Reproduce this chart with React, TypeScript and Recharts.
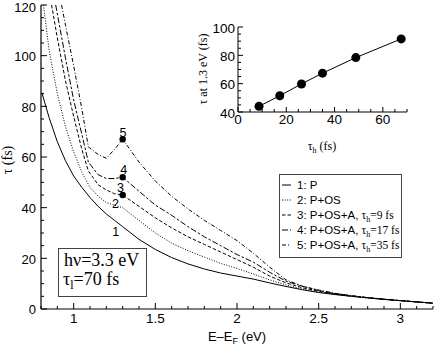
import React from 'react';
import { ComposedChart, Line, Scatter, XAxis, YAxis, Legend } from 'recharts';

// ---------- main panel data ----------
const e1 = [0.8, 0.85, 0.9, 0.95, 1.0, 1.05, 1.1, 1.15, 1.2, 1.25, 1.3, 1.4, 1.5, 1.6, 1.7, 1.8, 1.9, 2.0, 2.1, 2.2, 2.3, 2.4, 2.5, 2.6, 2.7, 2.8, 2.9, 3.0, 3.1, 3.2];
const t1 = [86.5, 75.5, 66, 58.5, 52.5, 48, 44, 40.5, 37.5, 35, 32.5, 27.5, 23.5, 20.3, 17.8, 15.8, 14.2, 13.0, 11.8, 10.3, 8.9, 7.6, 6.5, 5.7, 5.0, 4.4, 3.8, 3.3, 2.8, 2.3];

const e2 = [0.815, 0.85, 0.9, 0.95, 1.0, 1.05, 1.1, 1.15, 1.2, 1.25, 1.3, 1.35, 1.4, 1.5, 1.6, 1.7, 1.8, 1.9, 2.0, 2.1, 2.2, 2.3, 2.4, 2.5, 2.6, 2.7, 2.8, 2.9, 3.0, 3.1, 3.2];
const t2 = [120, 102, 85, 72, 62, 54, 48, 44.5, 42, 41, 40, 37.5, 35, 30, 26, 23, 20.5, 18, 16, 13.8, 11.5, 9.5, 7.9, 6.7, 5.8, 5.0, 4.4, 3.8, 3.3, 2.8, 2.3];

const e3 = [0.865, 0.9, 0.95, 1.0, 1.05, 1.09, 1.15, 1.2, 1.25, 1.3, 1.4, 1.5, 1.6, 1.7, 1.8, 1.9, 2.0, 2.1, 2.2, 2.3, 2.4, 2.5, 2.6, 2.7, 2.8, 2.9, 3.0, 3.1, 3.2];
const t3 = [120, 107, 90, 76, 63, 54.5, 49, 47, 45.5, 45, 40.5, 36, 32, 28.5, 25.5, 22.5, 19.5, 16.5, 13, 10.3, 8.4, 7, 5.9, 5.1, 4.4, 3.8, 3.3, 2.8, 2.3];

const e4 = [0.89, 0.95, 1.0, 1.05, 1.09, 1.15, 1.2, 1.25, 1.3, 1.4, 1.5, 1.6, 1.7, 1.8, 1.9, 2.0, 2.1, 2.2, 2.3, 2.4, 2.5, 2.6, 2.7, 2.8, 2.9, 3.0, 3.1, 3.2];
const t4 = [120, 99, 82.5, 69, 58, 53, 51.5, 51.5, 52, 46.5, 41, 37, 32.5, 28.5, 25, 21.5, 18.5, 14.5, 11, 9, 7.3, 6.1, 5.2, 4.5, 3.9, 3.3, 2.8, 2.3];

const e5 = [0.926, 0.95, 1.0, 1.05, 1.09, 1.15, 1.2, 1.25, 1.3, 1.4, 1.5, 1.6, 1.7, 1.8, 1.9, 2.0, 2.1, 2.2, 2.3, 2.4, 2.5, 2.6, 2.7, 2.8, 2.9, 3.0, 3.1, 3.2];
const t5 = [120, 112, 96, 79, 64, 61, 59.5, 63, 67, 58, 50.5, 44.5, 39.5, 35, 31, 27, 22, 16.5, 11.5, 9, 7.5, 6.2, 5.3, 4.5, 3.9, 3.3, 2.8, 2.3];

// markers at 1.3 eV
const markE = [1.3, 1.3, 1.3];
const markT = [45, 52, 67];

// curve number labels
const labelE = [1.258, 1.256, 1.287, 1.306, 1.302];
const labelT = [30.5, 41.5, 47.8, 54.9, 69.6];
const labelText = ['1', '2', '3', '4', '5'];

// ticks
const xTicks = [0.8, 0.9, 1.0, 1.1, 1.2, 1.3, 1.4, 1.5, 1.6, 1.7, 1.8, 1.9, 2.0, 2.1, 2.2, 2.3, 2.4, 2.5, 2.6, 2.7, 2.8, 2.9, 3.0, 3.1, 3.2];
const xMajor = [1, 1.5, 2, 2.5, 3];
const yTicks = [0, 5, 10, 15, 20, 25, 30, 35, 40, 45, 50, 55, 60, 65, 70, 75, 80, 85, 90, 95, 100, 105, 110, 115, 120];
const yMajor = [0, 20, 40, 60, 80, 100, 120];

// ---------- inset data ----------
const tauH = [8.7, 17.3, 26.3, 35, 48.8, 67.6];
const tauAt13 = [44, 51.5, 59.8, 67.4, 78.4, 91.6];
const inXTicks = [0, 5, 10, 15, 20, 25, 30, 35, 40, 45, 50, 55, 60, 65, 70];
const inXMajor = [0, 20, 40, 60];
const inYTicks = [40, 45, 50, 55, 60, 65, 70, 75, 80, 85, 90, 95, 100];
const inYMajor = [40, 60, 80, 100];

// legend
const legendLabels = ['1: P', '2: P+OS', '3: P+OS+A, ', '4: P+OS+A, ', '5: P+OS+A, '];
const legendTauH = ['', '', '9', '17', '35'];

const SANS = "'Liberation Sans', Arial, Helvetica, sans-serif";
const SERIF = "'Liberation Serif', 'Times New Roman', serif";

const zip = (xs: number[], ys: number[]) => xs.map((x, i) => ({ e: x, t: ys[i] }));
const series = [
  { data: zip(e1, t1), dash: undefined as string | undefined },
  { data: zip(e2, t2), dash: '1 1.6' },
  { data: zip(e3, t3), dash: '3.5 2' },
  { data: zip(e4, t4), dash: '6 2 2.5 2' },
  { data: zip(e5, t5), dash: '4 2 1 2' },
];
const marks = zip(markE, markT);
const labels = labelE.map((x, i) => ({ e: x, t: labelT[i], s: labelText[i] }));
const insetData = tauH.map((x, i) => ({ h: x, v: tauAt13[i] }));

const isIn = (arr: number[], v: number) => arr.some((a) => Math.abs(a - v) < 1e-6);
const fmt = (v: number) => String(Math.round(v * 10) / 10);

type Side = 'bottom' | 'top' | 'left' | 'right';
function makeTick(side: Side, majors: number[], showLabel: boolean, majLen: number, minLen: number, labelOff: number, fs: number) {
  return (props: any) => {
    const { x, y, payload } = props;
    const v = payload.value;
    const major = isIn(majors, v);
    const len = major ? majLen : minLen;
    let line;
    if (side === 'bottom') line = <line x1={x} x2={x} y1={y} y2={y - len} stroke="#000" strokeWidth={1} />;
    else if (side === 'top') line = <line x1={x} x2={x} y1={y} y2={y + len} stroke="#000" strokeWidth={1} />;
    else if (side === 'left') line = <line x1={x} x2={x + len} y1={y} y2={y} stroke="#000" strokeWidth={1} />;
    else line = <line x1={x} x2={x - len} y1={y} y2={y} stroke="#000" strokeWidth={1} />;
    let label = null;
    if (showLabel && major) {
      if (side === 'bottom')
        label = <text x={x} y={y + labelOff} textAnchor="middle" fontFamily={SANS} fontSize={fs} fill="#000">{fmt(v)}</text>;
      else if (side === 'left')
        label = <text x={x - labelOff} y={Math.max(y + fs * 0.41, fs * 0.93)} textAnchor="end" fontFamily={SANS} fontSize={fs} fill="#000">{fmt(v)}</text>;
    }
    return <g>{line}{label}</g>;
  };
}

const LegendBox = () => (
  <svg width={124} height={85} style={{ display: 'block' }}>
    <rect x={0.5} y={0.5} width={122} height={83} fill="#fff" stroke="#444" strokeWidth={1} />
    {legendLabels.map((lab, i) => {
      const cy = 11 + i * 15;
      return (
        <g key={i}>
          <line x1={3} x2={12} y1={cy} y2={cy} stroke="#000" strokeWidth={1} strokeDasharray={series[i].dash} />
          <text x={18} y={cy + 4} fontFamily={SANS} fontSize={11.5} fill="#000">
            {lab}
            {legendTauH[i] && (
              <>
                <tspan fontFamily={SERIF}>τ</tspan>
                <tspan fontFamily={SERIF} fontSize={8} dy={2.5}>h</tspan>
                <tspan fontFamily={SERIF} dy={-2.5}>={legendTauH[i]} fs</tspan>
              </>
            )}
          </text>
        </g>
      );
    })}
  </svg>
);

const DotShape = (p: any) => <circle cx={p.cx} cy={p.cy} r={3.2} fill="#000" />;
const BigDot = (p: any) => <circle cx={p.cx} cy={p.cy} r={4.5} fill="#000" />;
const LabelShape = (p: any) => (
  <text x={p.cx} y={p.cy + 4.5} textAnchor="middle" fontFamily={SANS} fontSize={12.5} fill="#000">{p.payload.s}</text>
);

export default function App() {
  return (
    <div style={{ position: 'absolute', left: 0, top: 0, width: 436, height: 353, background: '#fff' }}>
      <div style={{ position: 'absolute', left: 0, top: 0 }}>
        <ComposedChart width={436} height={353} margin={{ top: 5, right: 3, bottom: 0, left: 0 }}>
          <XAxis xAxisId={0} dataKey="e" type="number" domain={[0.8, 3.2]} allowDataOverflow ticks={xTicks} interval={0}
            height={44} tickSize={0} tickMargin={0} tickLine={false} axisLine={{ stroke: '#000' }}
            tick={makeTick('bottom', xMajor, true, 6, 3, 14, 13.5)} />
          <XAxis xAxisId="top" orientation="top" type="number" domain={[0.8, 3.2]} allowDataOverflow ticks={xTicks} interval={0}
            height={0} tickSize={0} tickMargin={0} tickLine={false} axisLine={{ stroke: '#000' }}
            tick={makeTick('top', xMajor, false, 6, 3, 0, 12)} />
          <YAxis yAxisId={0} dataKey="t" type="number" domain={[0, 120]} allowDataOverflow ticks={yTicks} interval={0}
            width={41} tickSize={0} tickMargin={0} tickLine={false} axisLine={{ stroke: '#666', strokeWidth: 2 }}
            tick={makeTick('left', yMajor, true, 6, 3, 5, 13)} />
          <YAxis yAxisId="right" orientation="right" type="number" domain={[0, 120]} allowDataOverflow ticks={yTicks} interval={0}
            width={0} tickSize={0} tickMargin={0} tickLine={false} axisLine={{ stroke: '#666', strokeWidth: 1.5 }}
            tick={makeTick('right', yMajor, false, 6, 3, 0, 12)} />
          {series.map((s, i) => (
            <Line key={i} data={s.data} dataKey="t" type="linear" stroke="#000" strokeWidth={1}
              strokeDasharray={s.dash} dot={false} activeDot={false} isAnimationActive={false} legendType="none" />
          ))}
          <Scatter data={marks} dataKey="t" shape={DotShape} isAnimationActive={false} legendType="none" />
          <Scatter data={labels} dataKey="t" shape={LabelShape} isAnimationActive={false} legendType="none" />
          <Legend layout="horizontal" verticalAlign="middle" align="center" content={() => <LegendBox />}
            wrapperStyle={{ position: 'absolute', left: 279, top: 174, width: 124, height: 85, margin: 0 }} />
        </ComposedChart>
      </div>

      <div style={{ position: 'absolute', left: 0, top: 0 }}>
        <ComposedChart width={436} height={353} margin={{ top: 27, right: 29, bottom: 0, left: 0 }}>
          <XAxis xAxisId={0} dataKey="h" type="number" domain={[0, 70]} allowDataOverflow ticks={inXTicks} interval={0}
            height={241} tickSize={0} tickMargin={0} tickLine={false} axisLine={{ stroke: '#000' }}
            tick={makeTick('bottom', inXMajor, true, 5, 3, 12, 13.5)} />
          <XAxis xAxisId="top" orientation="top" type="number" domain={[0, 70]} allowDataOverflow ticks={inXTicks} interval={0}
            height={0} tickSize={0} tickMargin={0} tickLine={false} axisLine={{ stroke: '#000' }}
            tick={makeTick('top', inXMajor, false, 5, 3, 0, 12)} />
          <YAxis yAxisId={0} dataKey="v" type="number" domain={[40, 100]} allowDataOverflow ticks={inYTicks} interval={0}
            width={238} tickSize={0} tickMargin={0} tickLine={false} axisLine={{ stroke: '#000' }}
            tick={makeTick('left', inYMajor, true, 5, 3, 3, 13.5)} />
          <YAxis yAxisId="right" orientation="right" type="number" domain={[40, 100]} allowDataOverflow ticks={inYTicks} interval={0}
            width={0} tickSize={0} tickMargin={0} tickLine={false} axisLine={{ stroke: '#000' }}
            tick={makeTick('right', inYMajor, false, 5, 3, 0, 12)} />
          <Line data={insetData} dataKey="v" type="linear" stroke="#000" strokeWidth={1} dot={false} activeDot={false}
            isAnimationActive={false} legendType="none" />
          <Scatter data={insetData} dataKey="v" shape={BigDot} isAnimationActive={false} legendType="none" />
        </ComposedChart>
      </div>

      <svg width={436} height={353} style={{ position: 'absolute', left: 0, top: 0, pointerEvents: 'none' }}>
        <text transform="translate(12,160) rotate(-90)" textAnchor="middle" fontFamily={SERIF} fontSize={14} fill="#000">τ (fs)</text>
        <text x={237} y={341} textAnchor="middle" fontFamily={SANS} fontSize={13} fill="#000">
          E–E<tspan fontSize={9} dy={3}>F</tspan><tspan dy={-3}> (eV)</tspan>
        </text>
        <text transform="translate(207,69) rotate(-90)" textAnchor="middle" fontFamily={SERIF} fontSize={12} fill="#000">τ at 1.3 eV (fs)</text>
        <text x={322} y={150} textAnchor="middle" fontFamily={SERIF} fontSize={12} fill="#000">
          τ<tspan fontSize={8} dy={2.5}>h</tspan><tspan dy={-2.5}> (fs)</tspan>
        </text>
        <rect x={58.5} y={248.5} width={88} height={48} fill="none" stroke="#444" strokeWidth={1} />
        <text x={64} y={266} fontFamily={SERIF} fontSize={18} fill="#000">hν=3.3 eV</text>
        <text x={63} y={285} fontFamily={SERIF} fontSize={18} fill="#000">
          τ<tspan fontSize={12} dy={4}>l</tspan><tspan dy={-4}>=70 fs</tspan>
        </text>
      </svg>
    </div>
  );
}
